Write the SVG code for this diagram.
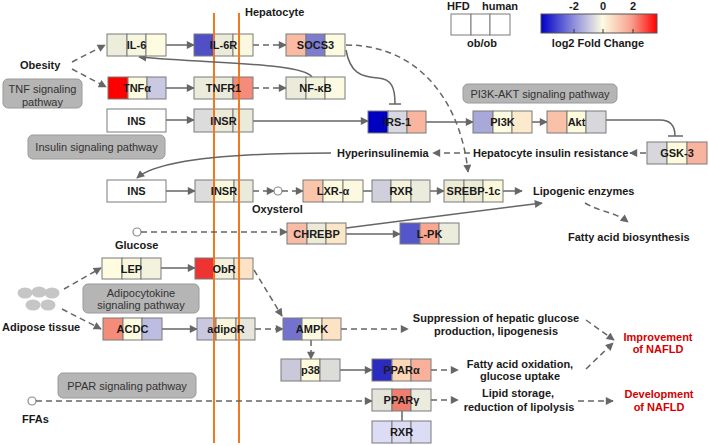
<svg xmlns="http://www.w3.org/2000/svg" width="709" height="446" viewBox="0 0 709 446">
<style>
text{font-family:"Liberation Sans",Arial,sans-serif;}
.b{font-weight:bold;font-size:11px;fill:#1a1a1a;}
.n{font-weight:bold;font-size:11px;fill:#1a1a1a;text-anchor:middle;}
.r{font-weight:bold;font-size:11px;fill:#d40000;text-anchor:middle;}
.pw{font-size:11px;fill:#333;text-anchor:middle;}
.pb{fill:#b5b5b5;stroke:#9a9a9a;stroke-width:1;}
.c{stroke:#7a7a7a;stroke-width:1;}
.s{fill:none;stroke:#666;stroke-width:1.5;}
.d{fill:none;stroke:#666;stroke-width:1.5;stroke-dasharray:6,4;}
.o{fill:#fff;stroke:#888;stroke-width:1.2;}
.m{stroke:#f07820;stroke-width:2;fill:none;}
</style>
<defs>
<marker id="ah" viewBox="0 0 10 10" refX="9" refY="5" markerWidth="9" markerHeight="8" markerUnits="userSpaceOnUse" orient="auto"><path d="M0,0 L10,5 L0,10 z" fill="#666"/></marker>
<linearGradient id="lg" x1="0" x2="1" y1="0" y2="0">
<stop offset="0" stop-color="#0000c8"/>
<stop offset="0.28" stop-color="#8c8cdc"/>
<stop offset="0.53" stop-color="#fdfbe2"/>
<stop offset="0.78" stop-color="#f8a08e"/>
<stop offset="1" stop-color="#ff0000"/>
</linearGradient>
</defs>
<rect width="709" height="446" fill="#fff"/>

<!-- membrane -->
<g id="membrane">
<line class="m" x1="214" y1="13" x2="214" y2="443"/>
<line class="m" x1="239" y1="13" x2="239" y2="443"/>
</g>

<!-- legend -->
<g id="legend">
<text class="b" x="447" y="10">HFD</text>
<text class="b" x="482" y="10">human</text>
<rect class="c" x="451" y="14" width="20" height="21" fill="#fff"/>
<rect class="c" x="471" y="14" width="19" height="21" fill="#fff"/>
<rect class="c" x="490" y="14" width="20" height="21" fill="#fff"/>
<text class="n" x="482" y="47">ob/ob</text>
<rect x="541" y="14" width="116" height="19" fill="url(#lg)" stroke="#555" stroke-width="1"/>
<path d="M574,29 V33 M603,29 V33 M633,29 V33" stroke="#333" stroke-width="1"/>
<text class="n" x="574" y="10">-2</text>
<text class="n" x="603" y="10">0</text>
<text class="n" x="633" y="10">2</text>
<text class="n" x="598" y="47">log2 Fold Change</text>
</g>

<!-- pathway boxes -->
<g id="tnf-pw"><rect class="pb" x="3" y="79" width="79" height="29" rx="5"/><text class="pw" x="42.5" y="93">TNF signaling</text><text class="pw" x="42.5" y="106">pathway</text></g>
<g id="ins-pw"><rect class="pb" x="28" y="135" width="137" height="24" rx="5"/><text class="pw" x="96.5" y="151">Insulin signaling pathway</text></g>
<g id="pi3k-pw"><rect class="pb" x="463" y="84" width="154" height="19" rx="5"/><text class="pw" x="540" y="98">PI3K-AKT signaling pathway</text></g>
<g id="adipo-pw"><rect class="pb" x="83" y="284" width="116" height="29" rx="5"/><text class="pw" x="141" y="297">Adipocytokine</text><text class="pw" x="141" y="309">signaling pathway</text></g>
<g id="ppar-pw"><rect class="pb" x="58" y="373" width="138" height="25" rx="5"/><text class="pw" x="127" y="390">PPAR signaling pathway</text></g>

<!-- connectors -->
<g id="connectors">
<path class="d" d="M72,62 L105,45" marker-end="url(#ah)"/>
<path class="d" d="M72,69 L106,87" marker-end="url(#ah)"/>
<path class="s" d="M166,45 L194,45" marker-end="url(#ah)"/>
<path class="d" d="M253,45 L286,45" marker-end="url(#ah)"/>
<path class="s" d="M166,88 L194,88" marker-end="url(#ah)"/>
<path class="d" d="M253,88 L286,88" marker-end="url(#ah)"/>
<path class="s" d="M312,77 C302,63 220,64 139,57" marker-end="url(#ah)"/>
<path class="s" d="M346,50 C350,72 360,77 378,78 C392,79 395,88 395,104"/>
<path class="s" d="M389,104 L401,104"/>
<path class="d" d="M346,45 C425,45 462,110 468,172" marker-end="url(#ah)"/>
<path class="s" d="M166,120 L194,120" marker-end="url(#ah)"/>
<path class="s" d="M253,121 L368,121" marker-end="url(#ah)"/>
<path class="s" d="M426,122 L473,122" marker-end="url(#ah)"/>
<path class="s" d="M532,122 L547,122" marker-end="url(#ah)"/>
<path class="s" d="M606,120 L660,120 C670,120 675,125 675,136"/>
<path class="s" d="M668,136 L683,136"/>
<path class="d" d="M646,153 L630,153" marker-end="url(#ah)"/>
<path class="d" d="M470,153 L433,153" marker-end="url(#ah)"/>
<path class="s" d="M331,153 C250,153 160,158 137,178" marker-end="url(#ah)"/>
<path class="s" d="M166,191 L195,191" marker-end="url(#ah)"/>
<path class="d" d="M253,191 L274,191" marker-end="url(#ah)"/>
<circle class="o" cx="278" cy="191" r="4"/>
<path class="d" d="M282,191 L303,191" marker-end="url(#ah)"/>
<path class="s" d="M363,191 L372,191"/>
<path class="s" d="M430,191 L444,191" marker-end="url(#ah)"/>
<path class="s" d="M503,191 L522,191" marker-end="url(#ah)"/>
<path class="d" d="M585,203 C600,212 615,212 628,222" marker-end="url(#ah)"/>
<circle class="o" cx="137" cy="232" r="4"/>
<path class="d" d="M141,232 L287,232" marker-end="url(#ah)"/>
<path class="s" d="M346,228 L542,203" marker-end="url(#ah)"/>
<path class="s" d="M346,234 L400,234" marker-end="url(#ah)"/>
<path class="d" d="M64,289 L101,268" marker-end="url(#ah)"/>
<path class="d" d="M62,309 L101,329" marker-end="url(#ah)"/>
<path class="s" d="M161,268 L195,268" marker-end="url(#ah)"/>
<path class="s" d="M162,329 L197,329" marker-end="url(#ah)"/>
<path class="d" d="M255,329 L283,329" marker-end="url(#ah)"/>
<path class="d" d="M254,270 L282,316" marker-end="url(#ah)"/>
<path class="d" d="M341,329 L408,329" marker-end="url(#ah)"/>
<path class="d" d="M586,320 L614,340" marker-end="url(#ah)"/>
<path class="d" d="M311,340 L311,359" marker-end="url(#ah)"/>
<path class="s" d="M340,370 L372,370" marker-end="url(#ah)"/>
<path class="d" d="M431,370 L458,370" marker-end="url(#ah)"/>
<path class="d" d="M586,369 L613,343" marker-end="url(#ah)"/>
<circle class="o" cx="32" cy="401" r="4"/>
<path class="d" d="M36,401 L372,401" marker-end="url(#ah)"/>
<path class="d" d="M431,400 L458,400" marker-end="url(#ah)"/>
<path class="d" d="M578,401 L613,401" marker-end="url(#ah)"/>
<path class="s" d="M402,411 L402,421"/>
</g>

<!-- nodes -->
<g id="il6"><rect class="c" x="107" y="34" width="20" height="22" fill="#ededdb"/><rect class="c" x="127" y="34" width="19" height="22" fill="#f7f6df"/><rect class="c" x="146" y="34" width="20" height="22" fill="#fdfce0"/><text class="n" x="136.5" y="49">IL-6</text></g>
<g id="il6r"><rect class="c" x="194" y="34" width="20" height="22" fill="#4f4fc6"/><rect class="c" x="214" y="34" width="19" height="22" fill="#ebebda"/><rect class="c" x="233" y="34" width="20" height="22" fill="#faf9df"/><path class="m" d="M214,33 V57 M239,33 V57"/><text class="n" x="223.5" y="49">IL-6R</text></g>
<g id="socs3"><rect class="c" x="286" y="34" width="20" height="22" fill="#f9bba3"/><rect class="c" x="306" y="34" width="19" height="22" fill="#7d7dd0"/><rect class="c" x="325" y="34" width="20" height="22" fill="#fcfbe0"/><text class="n" x="315.5" y="49">SOCS3</text></g>
<g id="tnfa"><rect class="c" x="108" y="77" width="20" height="22" fill="#ff0000"/><rect class="c" x="128" y="77" width="19" height="22" fill="#fcfadf"/><rect class="c" x="147" y="77" width="19" height="22" fill="#c9c9e1"/><text class="n" x="137" y="92">TNFα</text></g>
<g id="tnfr1"><rect class="c" x="194" y="77" width="20" height="22" fill="#ebebdb"/><rect class="c" x="214" y="77" width="19" height="22" fill="#ebebdb"/><rect class="c" x="233" y="77" width="20" height="22" fill="#f48b7b"/><path class="m" d="M214,76 V100 M239,76 V100"/><text class="n" x="223.5" y="92">TNFR1</text></g>
<g id="nfkb"><rect class="c" x="286" y="77" width="20" height="22" fill="#ebebdb"/><rect class="c" x="306" y="77" width="19" height="22" fill="#f2f2dd"/><rect class="c" x="325" y="77" width="20" height="22" fill="#fcfbe1"/><text class="n" x="315.5" y="92">NF-κB</text></g>
<g id="ins1"><rect class="c" x="107" y="109" width="59" height="23" fill="#fff"/><text class="n" x="136.5" y="124.5">INS</text></g>
<g id="insr1"><rect class="c" x="194" y="109" width="20" height="23" fill="#dcdcdc"/><rect class="c" x="214" y="109" width="19" height="23" fill="#ebebd7"/><rect class="c" x="233" y="109" width="20" height="23" fill="#ebebdb"/><path class="m" d="M214,108 V133 M239,108 V133"/><text class="n" x="223.5" y="124.5">INSR</text></g>
<g id="irs1"><rect class="c" x="368" y="111" width="20" height="22" fill="#0000c0"/><rect class="c" x="388" y="111" width="19" height="22" fill="#d8d8e2"/><rect class="c" x="407" y="111" width="19" height="22" fill="#f9b59d"/><text class="n" x="397" y="126">IRS-1</text></g>
<g id="pi3k"><rect class="c" x="473" y="111" width="20" height="22" fill="#a9a9d9"/><rect class="c" x="493" y="111" width="19" height="22" fill="#fdfbe0"/><rect class="c" x="512" y="111" width="20" height="22" fill="#fdeacd"/><text class="n" x="502.5" y="126">PI3K</text></g>
<g id="akt"><rect class="c" x="547" y="111" width="20" height="22" fill="#f9c1a7"/><rect class="c" x="567" y="111" width="19" height="22" fill="#fdfbdc"/><rect class="c" x="586" y="111" width="20" height="22" fill="#d8d8dc"/><text class="n" x="576.5" y="126">Akt</text></g>
<g id="gsk3"><rect class="c" x="647" y="142" width="20" height="22" fill="#d8d8dc"/><rect class="c" x="667" y="142" width="20" height="22" fill="#fdfbdc"/><rect class="c" x="687" y="142" width="20" height="22" fill="#f9b4a0"/><text class="n" x="677" y="157">GSK-3</text></g>
<g id="ins2"><rect class="c" x="107" y="180" width="59" height="22" fill="#fff"/><text class="n" x="136.5" y="195">INS</text></g>
<g id="insr2"><rect class="c" x="195" y="180" width="19" height="22" fill="#dcdcdc"/><rect class="c" x="214" y="180" width="20" height="22" fill="#fbfadf"/><rect class="c" x="234" y="180" width="19" height="22" fill="#ebebdc"/><path class="m" d="M214,179 V203 M239,179 V203"/><text class="n" x="224" y="195">INSR</text></g>
<g id="lxra"><rect class="c" x="303" y="180" width="20" height="22" fill="#f9c6ab"/><rect class="c" x="323" y="180" width="20" height="22" fill="#fdfadf"/><rect class="c" x="343" y="180" width="20" height="22" fill="#fcf9e0"/><text class="n" x="333" y="195">LXR-α</text></g>
<g id="rxr1"><rect class="c" x="372" y="180" width="19" height="22" fill="#d0d0dc"/><rect class="c" x="391" y="180" width="20" height="22" fill="#f5f3dc"/><rect class="c" x="411" y="180" width="19" height="22" fill="#ececdc"/><text class="n" x="401" y="195">RXR</text></g>
<g id="srebp"><rect class="c" x="444" y="180" width="20" height="22" fill="#ebebd6"/><rect class="c" x="464" y="180" width="19" height="22" fill="#ebebd6"/><rect class="c" x="483" y="180" width="20" height="22" fill="#f9f8dc"/><text class="n" x="473.5" y="195">SREBP-1c</text></g>
<g id="chrebp"><rect class="c" x="287" y="223" width="20" height="21" fill="#f9bca7"/><rect class="c" x="307" y="223" width="19" height="21" fill="#ebebd7"/><rect class="c" x="326" y="223" width="20" height="21" fill="#fbe6c7"/><text class="n" x="316.5" y="237.5">CHREBP</text></g>
<g id="lpk"><rect class="c" x="400" y="223" width="20" height="21" fill="#5656cc"/><rect class="c" x="420" y="223" width="19" height="21" fill="#f9a791"/><rect class="c" x="439" y="223" width="20" height="21" fill="#ececdc"/><text class="n" x="429.5" y="237.5">L-PK</text></g>
<g id="lep"><rect class="c" x="102" y="258" width="20" height="21" fill="#fdfbe0"/><rect class="c" x="122" y="258" width="19" height="21" fill="#f9f8df"/><rect class="c" x="141" y="258" width="20" height="21" fill="#f3f2dd"/><text class="n" x="131.5" y="272.5">LEP</text></g>
<g id="obr"><rect class="c" x="195" y="258" width="19" height="21" fill="#ee3333"/><rect class="c" x="214" y="258" width="20" height="21" fill="#f3f0dc"/><rect class="c" x="234" y="258" width="19" height="21" fill="#fde2c6"/><path class="m" d="M214,257 V280 M239,257 V280"/><text class="n" x="224" y="272.5">ObR</text></g>
<g id="adipose"><ellipse cx="25" cy="293" rx="7.5" ry="5.5" fill="#c6c6c6"/><ellipse cx="39" cy="292" rx="7.5" ry="5.5" fill="#c6c6c6"/><ellipse cx="52" cy="293" rx="7.5" ry="5.5" fill="#c6c6c6"/><ellipse cx="33" cy="305" rx="7.5" ry="5.5" fill="#c6c6c6"/><ellipse cx="48" cy="305" rx="7.5" ry="5.5" fill="#c6c6c6"/></g>
<g id="acdc"><rect class="c" x="103" y="318" width="20" height="22" fill="#f58b79"/><rect class="c" x="123" y="318" width="19" height="22" fill="#fdfbe0"/><rect class="c" x="142" y="318" width="20" height="22" fill="#bdbde1"/><text class="n" x="132.5" y="333">ACDC</text></g>
<g id="adipor"><rect class="c" x="197" y="318" width="19" height="22" fill="#c8c8e0"/><rect class="c" x="216" y="318" width="20" height="22" fill="#f9f6dc"/><rect class="c" x="236" y="318" width="19" height="22" fill="#e6e6dc"/><path class="m" d="M214,317 V341 M239,317 V341"/><text class="n" x="226" y="333">adipoR</text></g>
<g id="ampk"><rect class="c" x="283" y="318" width="19" height="22" fill="#7373cf"/><rect class="c" x="302" y="318" width="20" height="22" fill="#fbf9df"/><rect class="c" x="322" y="318" width="19" height="22" fill="#fde2c6"/><text class="n" x="312" y="333">AMPK</text></g>
<g id="p38"><rect class="c" x="281" y="359" width="20" height="22" fill="#c9c9d9"/><rect class="c" x="301" y="359" width="19" height="22" fill="#fdfbdc"/><rect class="c" x="320" y="359" width="20" height="22" fill="#dcdcd8"/><text class="n" x="310.5" y="374">p38</text></g>
<g id="ppara"><rect class="c" x="372" y="359" width="20" height="22" fill="#2b2bc0"/><rect class="c" x="392" y="359" width="19" height="22" fill="#fbd7b7"/><rect class="c" x="411" y="359" width="20" height="22" fill="#f9b19b"/><text class="n" x="401.5" y="374">PPARα</text></g>
<g id="pparg"><rect class="c" x="372" y="389" width="20" height="22" fill="#e4e4dc"/><rect class="c" x="392" y="389" width="19" height="22" fill="#f07d6d"/><rect class="c" x="411" y="389" width="20" height="22" fill="#ebebde"/><text class="n" x="401.5" y="404">PPARγ</text></g>
<g id="rxr2"><rect class="c" x="372" y="421" width="20" height="22" fill="#dcdcf4"/><rect class="c" x="392" y="421" width="19" height="22" fill="#dcdcf4"/><rect class="c" x="411" y="421" width="20" height="22" fill="#dcdcf4"/><text class="n" x="401.5" y="436">RXR</text></g>

<!-- free labels -->
<g id="labels">
<text class="b" x="245" y="16">Hepatocyte</text>
<text class="b" x="20" y="69">Obesity</text>
<text class="b" x="337" y="157">Hyperinsulinemia</text>
<text class="b" x="473" y="157">Hepatocyte insulin resistance</text>
<text class="b" x="252" y="213">Oxysterol</text>
<text class="b" x="533" y="195">Lipogenic enzymes</text>
<text class="b" x="568" y="241">Fatty acid biosynthesis</text>
<text class="b" x="115" y="249">Glucose</text>
<text class="b" x="2" y="331">Adipose tissue</text>
<text class="n" x="496" y="322">Suppression of hepatic glucose</text>
<text class="n" x="496" y="335">production, lipogenesis</text>
<text class="r" x="658" y="341">Improvement</text>
<text class="r" x="658" y="353">of NAFLD</text>
<text class="n" x="520" y="368">Fatty acid oxidation,</text>
<text class="n" x="520" y="380">glucose uptake</text>
<text class="n" x="518" y="397">Lipid storage,</text>
<text class="n" x="519" y="411">reduction of lipolysis</text>
<text class="r" x="659" y="398">Development</text>
<text class="r" x="659" y="411">of NAFLD</text>
<text class="b" x="22" y="423">FFAs</text>
</g>
</svg>
